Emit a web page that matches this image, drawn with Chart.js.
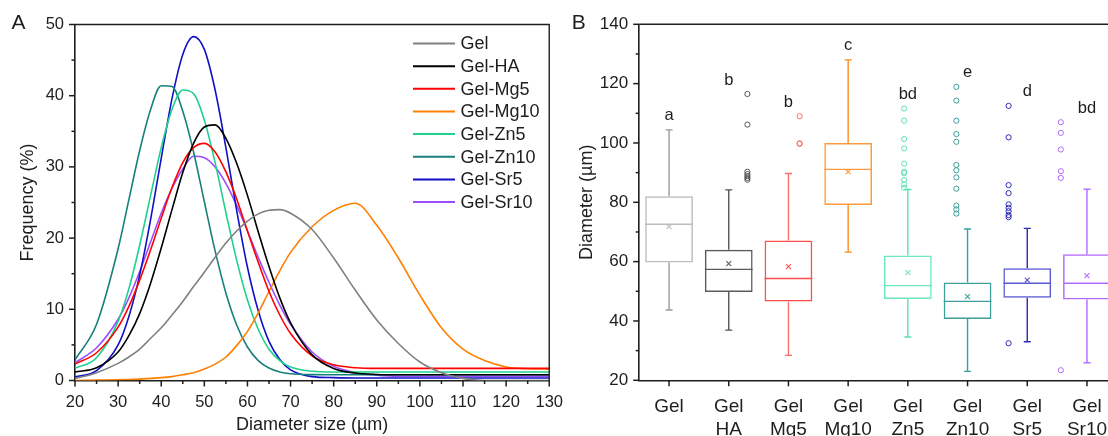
<!DOCTYPE html>
<html>
<head>
<meta charset="utf-8">
<script src="https://cdn.jsdelivr.net/npm/chart.js@4.4.1/dist/chart.umd.min.js"></script>
<style>
html, body { margin: 0; padding: 0; background: #fff; overflow: hidden; width: 1108px; height: 436px; }
#wrap { position: relative; width: 1108px; height: 436px; overflow: hidden; }
#dist { position: absolute; left: 0; top: 0; }
#box { position: absolute; left: 560px; top: 0; }
</style>
</head>
<body>
<div id="wrap">
  <canvas id="dist" width="575" height="436"></canvas>
  <canvas id="box" width="580" height="436"></canvas>
</div>
<script>
const FONT = "'Liberation Sans', Arial, sans-serif";
const INK = '#1e1e1e';

// panel A: size distribution curves
const diam = [20, 25, 30, 32.5, 35, 37.5, 40, 42.5, 45, 47.5, 50, 52.5, 55, 57.5, 60, 62.5, 65, 67.5, 70, 75, 80, 85, 90, 95, 100, 105, 110, 115, 120, 125, 130];
const gel     = [0.25, 1.1, 2.4, 3.3, 4.4, 5.9, 7.4, 9.2, 11.1, 13.2, 15.2, 17.3, 19.3, 21.0, 22.4, 23.4, 23.9, 24.0, 23.5, 21.2, 17.2, 12.7, 8.5, 5.2, 2.6, 1.1, 0.3, 0, 0, 0, 0];
const gelHA   = [1.2, 1.8, 4.0, 6.3, 9.4, 13.6, 18.6, 24.0, 29.2, 33.3, 35.6, 35.9, 34.0, 30.5, 26.0, 20.9, 16.0, 11.6, 8.1, 3.6, 1.7, 1.05, 0.85, 0.8, 0.8, 0.8, 0.8, 0.8, 0.8, 0.8, 0.8];
const gelMg5  = [2.3, 3.9, 7.5, 10.4, 14.1, 18.3, 22.8, 27.1, 30.6, 32.7, 33.3, 32.1, 29.3, 25.5, 21.0, 16.6, 12.5, 9.2, 6.6, 3.45, 2.2, 1.8, 1.7, 1.7, 1.7, 1.7, 1.7, 1.7, 1.7, 1.7, 1.7];
const gelMg10 = [0, 0.05, 0.1, 0.15, 0.2, 0.3, 0.4, 0.55, 0.8, 1.1, 1.6, 2.3, 3.3, 4.9, 6.9, 9.5, 12.5, 15.4, 18.0, 21.6, 23.9, 24.9, 21.8, 17.2, 12.0, 7.4, 4.4, 2.8, 1.9, 1.65, 1.6];
const gelZn5  = [1.7, 3.2, 8.3, 12.9, 19.0, 25.9, 32.7, 38.1, 40.8, 40.3, 36.6, 30.6, 23.6, 16.9, 11.3, 7.2, 4.4, 2.8, 1.9, 1.3, 1.2, 1.2, 1.2, 1.2, 1.2, 1.2, 1.2, 1.2, 1.2, 1.2, 1.2];
const gelZn10 = [2.9, 7.9, 18.5, 25.4, 32.3, 38.0, 41.4, 41.3, 37.8, 32.1, 25.1, 18.2, 12.3, 7.8, 4.7, 2.8, 1.75, 1.2, 0.95, 0.82, 0.8, 0.8, 0.8, 0.8, 0.8, 0.8, 0.8, 0.8, 0.8, 0.8, 0.8];
const gelSr5  = [0.5, 1.4, 5.0, 9.0, 14.8, 22.5, 31.2, 39.6, 45.8, 48.3, 46.5, 40.8, 32.7, 23.9, 15.9, 9.8, 5.5, 2.95, 1.5, 0.55, 0.4, 0.35, 0.35, 0.35, 0.35, 0.35, 0.35, 0.35, 0.35, 0.35, 0.35];
const gelSr10 = [2.5, 4.6, 8.6, 11.6, 15.3, 19.4, 23.5, 27.0, 29.7, 31.5, 31.3, 30.0, 27.7, 24.6, 21.0, 17.3, 13.8, 10.6, 7.9, 4.0, 2.0, 1.1, 0.75, 0.6, 0.6, 0.6, 0.6, 0.6, 0.6, 0.6, 0.6];
const curveNames = ['Gel', 'Gel-HA', 'Gel-Mg5', 'Gel-Mg10', 'Gel-Zn5', 'Gel-Zn10', 'Gel-Sr5', 'Gel-Sr10'];
const curves = [gel, gelHA, gelMg5, gelMg10, gelZn5, gelZn10, gelSr5, gelSr10];
const lineColors = ['#808080', '#000000', '#ff0000', '#ff8000', '#1fd18c', '#17807c', '#1010c8', '#9b4dff'];

// panel B: box plots
const boxLabels = [['Gel'], ['Gel', 'HA'], ['Gel', 'Mg5'], ['Gel', 'Mg10'], ['Gel', 'Zn5'], ['Gel', 'Zn10'], ['Gel', 'Sr5'], ['Gel', 'Sr10']];
const q1        = [59.7, 49.8, 46.6, 79.1, 47.4, 40.7, 47.8, 47.2];
const q3        = [82.0, 64.0, 67.1, 100.0, 62.1, 53.0, 57.8, 62.5];
const medians   = [72.6, 57.4, 54.3, 91.1, 51.9, 46.6, 52.7, 52.7];
const means     = [71.8, 59.3, 58.3, 90.3, 56.3, 48.2, 53.8, 55.3];
const whiskLow  = [43.7, 36.9, 28.4, 63.2, 34.6, 23.0, 33.0, 25.9];
const whiskHigh = [104.4, 84.2, 89.7, 128.0, 84.3, 71.0, 71.2, 84.4];
const outliers = [
  [],
  [116.5, 106.2, 90.3, 89.5, 88.8, 88.2, 87.6],
  [109.0, 99.9, 99.7],
  [],
  [111.6, 107.5, 101.3, 98.2, 93.0, 90.3, 89.8, 87.5, 86.0, 84.9],
  [118.9, 114.3, 107.5, 103.0, 100.4, 92.6, 90.8, 88.4, 84.6, 78.9, 77.6, 76.2],
  [112.5, 101.9, 85.8, 83.1, 79.3, 78.1, 77.0, 75.7, 75.0, 32.5],
  [107.0, 103.4, 97.8, 90.5, 88.2, 23.4]
];
const letters = ['a', 'b', 'b', 'c', 'bd', 'e', 'd', 'bd'];
const boxColors   = ['#bdbdbd', '#5a5a5a', '#ff4d4d', '#ff9a3c', '#6de8bb', '#3d9e99', '#5b5bd6', '#b36bff'];
const whiskColors = ['#9a9a9a', '#555555', '#ff6b6b', '#ff8c1a', '#5fe0b0', '#3a9e9a', '#2b2bb8', '#b36bff'];

// ticks (major + minor), plus top/right frame
const axisMarks = {
  id: 'axisMarks',
  afterDraw(chart, args, opts) {
    const ctx = chart.ctx, a = chart.chartArea;
    ctx.save();
    ctx.strokeStyle = INK;
    ctx.lineWidth = 1.4;
    ctx.beginPath();
    ctx.moveTo(a.left, a.top);
    ctx.lineTo(a.right, a.top);
    ctx.lineTo(a.right, a.bottom);
    ctx.stroke();
    ctx.lineWidth = 1.5;
    ['x', 'y'].forEach(id => {
      const s = chart.scales[id];
      const major = opts[id];
      s.ticks.forEach(t => {
        const len = t.value % major === 0 ? 6 : 3.5;
        const p = s.getPixelForValue(t.value);
        ctx.beginPath();
        if (s.isHorizontal()) { ctx.moveTo(p, a.bottom); ctx.lineTo(p, a.bottom + len); }
        else { ctx.moveTo(a.left, p); ctx.lineTo(a.left - len, p); }
        ctx.stroke();
      });
    });
    if (opts.letter) {
      ctx.fillStyle = INK;
      ctx.font = `21px ${FONT}`;
      ctx.textBaseline = 'middle';
      ctx.fillText(opts.letter, opts.lx, 23);
    }
    ctx.restore();
  }
};

const curveLegend = {
  id: 'curveLegend',
  afterDraw(chart) {
    const ctx = chart.ctx, a = chart.chartArea;
    const x0 = a.left + 338, y0 = a.top + 19;
    ctx.save();
    ctx.font = `18px ${FONT}`;
    ctx.textBaseline = 'middle';
    ctx.fillStyle = INK;
    chart.data.datasets.forEach((ds, i) => {
      const y = y0 + i * 22.65;
      ctx.strokeStyle = ds.borderColor;
      ctx.lineWidth = 2;
      ctx.beginPath();
      ctx.moveTo(x0, y);
      ctx.lineTo(x0 + 42, y);
      ctx.stroke();
      ctx.fillText(ds.label, x0 + 47.5, y + 1);
    });
    ctx.restore();
  }
};

const boxParts = {
  id: 'boxParts',
  afterDatasetsDraw(chart) {
    const ctx = chart.ctx, x = chart.scales.x, y = chart.scales.y;
    const bw = chart.getDatasetMeta(0).data[0].width;
    ctx.save();
    ctx.lineWidth = 1.4;
    boxLabels.forEach((lab, i) => {
      const cx = x.getPixelForValue(i);
      ctx.strokeStyle = whiskColors[i];
      ctx.beginPath();
      ctx.moveTo(cx, y.getPixelForValue(q3[i]));
      ctx.lineTo(cx, y.getPixelForValue(whiskHigh[i]));
      ctx.moveTo(cx, y.getPixelForValue(q1[i]));
      ctx.lineTo(cx, y.getPixelForValue(whiskLow[i]));
      [whiskHigh[i], whiskLow[i]].forEach(v => {
        const p = y.getPixelForValue(v);
        ctx.moveTo(cx - 3.5, p);
        ctx.lineTo(cx + 3.5, p);
      });
      ctx.stroke();
      ctx.strokeStyle = boxColors[i];
      const m = y.getPixelForValue(medians[i]);
      ctx.beginPath();
      ctx.moveTo(cx - bw / 2, m);
      ctx.lineTo(cx + bw / 2, m);
      ctx.stroke();
      const top = Math.max(whiskHigh[i], ...outliers[i]);
      ctx.fillStyle = INK;
      ctx.font = `16.5px ${FONT}`;
      ctx.textAlign = 'center';
      ctx.textBaseline = 'middle';
      ctx.fillText(letters[i], cx, y.getPixelForValue(top) - 14);
    });
    ctx.restore();
  }
};

function tickFont(size) { return { family: FONT, size: size }; }

new Chart(document.getElementById('dist'), {
  type: 'line',
  data: {
    datasets: curves.map((vals, i) => ({
      label: curveNames[i],
      data: diam.map((d, j) => ({ x: d, y: vals[j] })),
      borderColor: lineColors[i],
      borderWidth: 1.6,
      pointRadius: 0,
      cubicInterpolationMode: 'monotone',
      fill: false
    }))
  },
  options: {
    responsive: false,
    animation: false,
    layout: { padding: { left: 0, top: 24.5, right: 23, bottom: 0 } },
    scales: {
      x: {
        type: 'linear', min: 20, max: 130,
        afterFit: s => { s.height = 55.5; },
        grid: { display: false, drawTicks: false },
        border: { display: true, color: INK, width: 1.6 },
        ticks: { stepSize: 5, autoSkip: false, maxRotation: 0, padding: 12, color: INK, font: tickFont(16.5),
                 callback: v => v % 10 === 0 ? v : '' },
        title: { display: true, text: 'Diameter size (µm)', color: INK, font: tickFont(18), padding: { top: 0, bottom: 0 } }
      },
      y: {
        min: 0, max: 50,
        afterFit: s => { s.width = 75; },
        grid: { display: false, drawTicks: false },
        border: { display: true, color: INK, width: 1.6 },
        ticks: { stepSize: 5, autoSkip: false, padding: 11, color: INK, font: tickFont(16.5),
                 callback: v => v % 10 === 0 ? v : '' },
        title: { display: true, text: 'Frequency (%)', color: INK, font: tickFont(18), padding: { top: 17, bottom: 0 } }
      }
    },
    plugins: {
      legend: { display: false },
      tooltip: { enabled: false },
      axisMarks: { x: 10, y: 10, letter: 'A', lx: 11.5 }
    }
  },
  plugins: [axisMarks, curveLegend]
});

const outPoints = [], outColors = [];
outliers.forEach((list, i) => list.forEach(v => { outPoints.push({ x: i, y: v }); outColors.push(whiskColors[i]); }));

new Chart(document.getElementById('box'), {
  type: 'bar',
  data: {
    labels: boxLabels,
    datasets: [
      {
        data: q1.map((v, i) => [v, q3[i]]),
        backgroundColor: 'rgba(0,0,0,0)',
        borderColor: boxColors,
        borderWidth: 1.5,
        borderSkipped: false,
        grouped: false,
        barPercentage: 0.8,
        categoryPercentage: 1
      },
      {
        type: 'line',
        data: means,
        showLine: false,
        pointStyle: 'crossRot',
        pointRadius: 3.5,
        pointBorderWidth: 1.1,
        pointBorderColor: boxColors,
        pointBackgroundColor: boxColors
      },
      {
        type: 'scatter',
        xAxisID: 'xo',
        data: outPoints,
        pointRadius: 2.6,
        pointBorderWidth: 1,
        pointBorderColor: outColors,
        pointBackgroundColor: 'rgba(0,0,0,0)'
      }
    ]
  },
  options: {
    responsive: false,
    animation: false,
    layout: { padding: { left: 0, top: 24.3, right: 23.2, bottom: 0 } },
    scales: {
      x: {
        afterFit: s => { s.height = 55.7; },
        grid: { display: false, drawTicks: false },
        border: { display: true, color: INK, width: 1.6 },
        ticks: { autoSkip: false, maxRotation: 0, padding: 15, color: INK, font: tickFont(19) }
      },
      xo: { type: 'linear', display: false, min: -0.5, max: 7.5 },
      y: {
        min: 20, max: 140,
        afterFit: s => { s.width = 79.2; },
        grid: { display: false, drawTicks: false },
        border: { display: true, color: INK, width: 1.6 },
        ticks: { stepSize: 10, autoSkip: false, padding: 11, color: INK, font: tickFont(17),
                 callback: v => v % 20 === 0 ? v : '' },
        title: { display: true, text: 'Diameter (µm)', color: INK, font: tickFont(18), padding: { top: 16, bottom: 0 } }
      }
    },
    plugins: {
      legend: { display: false },
      tooltip: { enabled: false },
      axisMarks: { x: 1, y: 20, letter: 'B', lx: 11.7 }
    }
  },
  plugins: [axisMarks, boxParts]
});
</script>
</body>
</html>
